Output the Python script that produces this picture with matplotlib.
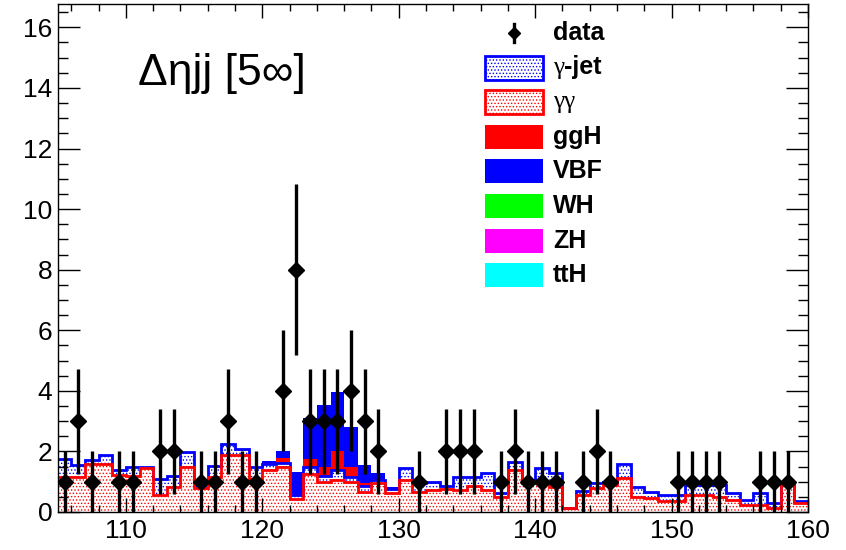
import numpy as np
import matplotlib
matplotlib.use("Agg")
import matplotlib.pyplot as plt
from matplotlib.patches import Rectangle
from matplotlib.ticker import MultipleLocator

plt.rcParams['font.family'] = ['Liberation Sans', 'DejaVu Sans']
plt.rcParams['hatch.linewidth'] = 0.6

# diphoton mass bins, 1 GeV wide
bin_edges = np.arange(105, 161)

data_counts = [1, 3, 1, 0, 1, 1, 0, 2, 2, 0,    # 105-114
               1, 1, 3, 1, 1, 0, 4, 8, 3, 3,    # 115-124
               3, 4, 3, 2, 0, 0, 1, 0, 2, 2,    # 125-134
               2, 0, 1, 2, 1, 1, 1, 0, 1, 2,    # 135-144
               1, 0, 0, 0, 0, 1, 1, 1, 1, 0,    # 145-154
               0, 1, 1, 1, 0]                   # 155-159

gamgam = [1.15, 1.15, 1.60, 1.60, 1.22, 1.20, 1.44, 0.56, 0.84, 1.47,
          0.80, 1.17, 1.88, 1.88, 1.08, 1.39, 1.50, 0.42, 1.25, 1.00,
          1.05, 1.00, 0.67, 0.95, 0.62, 1.06, 0.67, 0.73, 0.75, 0.73,
          0.86, 0.73, 0.48, 1.39, 0.95, 0.95, 0.84, 0.12, 0.55, 0.78,
          0.90, 1.13, 0.51, 0.45, 0.35, 0.35, 0.56, 0.56, 0.51, 0.40,
          0.23, 0.23, 0.12, 0.89, 0.30]

gamjet = [0.60, 0.40, 0.12, 0.28, 0.17, 0.27, 0.05, 0.53, 0.36, 0.52,
          0.20, 0.35, 0.36, 0.19, 0.39, 0.21, 0.12, 0.13, 0.25, 0.20,
          0.35, 0.15, 0.18, 0.10, 0.13, 0.38, 0.28, 0.27, 0.10, 0.44,
          0.31, 0.55, 0.14, 0.27, 0.11, 0.49, 0.44, 0.02, 0.15, 0.17,
          0.10, 0.47, 0.33, 0.22, 0.21, 0.21, 0.33, 0.33, 0.38, 0.22,
          0.17, 0.39, 0.18, 0.06, 0.05]

# signal samples only matter around the peak: bins 120-129
sig_first_bin = 120
ggh_peak = [0.03, 0.15, 0.05, 0.25, 0.30, 0.60, 0.35, 0.10, 0.05, 0.02]
vbf_peak = [0.05, 0.23, 0.73, 1.35, 2.03, 1.97, 1.30, 0.60, 0.20, 0.05]
# WH, ZH, ttH are too small to see at this scale
wh_peak = [0.0] * 10
zh_peak = [0.0] * 10
tth_peak = [0.0] * 10

legend_labels = ['data', 'γ-jet', 'γγ', 'ggH', 'VBF', 'WH', 'ZH', 'ttH']


def full(peak):
    out = np.zeros(len(bin_edges) - 1)
    i0 = sig_first_bin - bin_edges[0]
    out[i0:i0 + len(peak)] = peak
    return out


fig = plt.figure(figsize=(8.46, 5.5), dpi=100)
ax = fig.add_axes([0.0682, 0.0691, 0.8869, 0.9236])

# stack, bottom to top
layers = [
    (np.array(gamgam), dict(facecolor='white', edgecolor='red', hatch='.....', linewidth=0)),
    (np.array(gamjet), dict(facecolor='white', edgecolor='blue', hatch='.....', linewidth=0)),
    (full(ggh_peak), dict(facecolor='red', edgecolor='red', linewidth=0)),
    (full(vbf_peak), dict(facecolor='blue', edgecolor='blue', linewidth=0)),
    (full(wh_peak), dict(facecolor='#00ff00', edgecolor='#00ff00', linewidth=0)),
    (full(zh_peak), dict(facecolor='magenta', edgecolor='magenta', linewidth=0)),
    (full(tth_peak), dict(facecolor='cyan', edgecolor='cyan', linewidth=0)),
]
base = np.zeros(len(bin_edges) - 1)
tops = []
for vals, style in layers:
    top = base + vals
    if vals.any():
        ax.stairs(top, bin_edges, baseline=base, fill=True, zorder=1, **style)
    tops.append(top)
    base = top

# outlines of the two background histograms
ax.stairs(tops[1], bin_edges, baseline=None, color='blue', lw=2, zorder=1.6)
ax.stairs(tops[0], bin_edges, baseline=None, color='red', lw=2, zorder=1.7)

# data with sqrt(N) errors, empty bins not drawn
centres = bin_edges[:-1] + 0.5
counts = np.array(data_counts, dtype=float)
m = counts > 0
ax.errorbar(centres[m], counts[m], yerr=np.sqrt(counts[m]), fmt='D', color='black',
            ms=8.5, elinewidth=2.4, capsize=0, zorder=5)

ax.set_xlim(105, 160)
ax.set_ylim(0, 16.77)
ax.set_axisbelow(False)
ax.xaxis.set_major_locator(MultipleLocator(10))
ax.xaxis.set_minor_locator(MultipleLocator(2))
ax.yaxis.set_major_locator(MultipleLocator(2))
ax.yaxis.set_minor_locator(MultipleLocator(0.5))
ax.tick_params(which='both', direction='in', top=True, right=True, width=1.0, labelsize=19)
ax.tick_params(axis='x', which='major', length=10, pad=5)
ax.tick_params(axis='x', which='minor', length=5)
ax.tick_params(axis='y', which='major', length=16, pad=4)
ax.tick_params(axis='y', which='minor', length=7)
for s in ax.spines.values():
    s.set_linewidth(1.0)

ax.text(0.107, 0.8406, 'Δηjj [5∞]', transform=ax.transAxes, fontsize=32, va='baseline')

# legend, ROOT style
box_x, box_w, box_h = 0.5695, 0.0769, 0.0472
text_x = 0.6601
y0, step = 0.9429, 0.0681
legend_styles = [None,
                 dict(facecolor='white', edgecolor='blue', hatch='.....', linewidth=2),
                 dict(facecolor='white', edgecolor='red', hatch='.....', linewidth=2),
                 dict(facecolor='red', edgecolor='red', linewidth=0),
                 dict(facecolor='blue', edgecolor='blue', linewidth=0),
                 dict(facecolor='#00ff00', edgecolor='#00ff00', linewidth=0),
                 dict(facecolor='magenta', edgecolor='magenta', linewidth=0),
                 dict(facecolor='cyan', edgecolor='cyan', linewidth=0)]
for i, (lab, st) in enumerate(zip(legend_labels, legend_styles)):
    yc = y0 - i * step
    if st is None:
        xm = box_x + box_w / 2
        ax.plot([xm, xm], [yc - 0.017, yc + 0.017], color='black', lw=2.4,
                transform=ax.transAxes, clip_on=False, zorder=6)
        ax.plot([xm], [yc], marker='D', ms=6.5, color='black',
                transform=ax.transAxes, clip_on=False, zorder=6)
    else:
        ax.add_patch(Rectangle((box_x, yc - box_h / 2), box_w, box_h,
                               transform=ax.transAxes, zorder=6, **st))
    if lab.startswith('γ'):
        t = ax.text(text_x, yc, 'γγ' if lab == 'γγ' else 'γ', transform=ax.transAxes,
                    fontsize=18, family='Liberation Serif', va='center', zorder=6)
        if lab != 'γγ':
            ax.annotate(lab[1:], xy=(1, 0), xycoords=t, fontsize=18, weight='bold',
                        va='bottom', ha='left', zorder=6)
    else:
        ax.text(text_x, yc, lab, transform=ax.transAxes, fontsize=18,
                weight='bold', va='center', zorder=6)

fig.savefig('out.png', dpi=100)
